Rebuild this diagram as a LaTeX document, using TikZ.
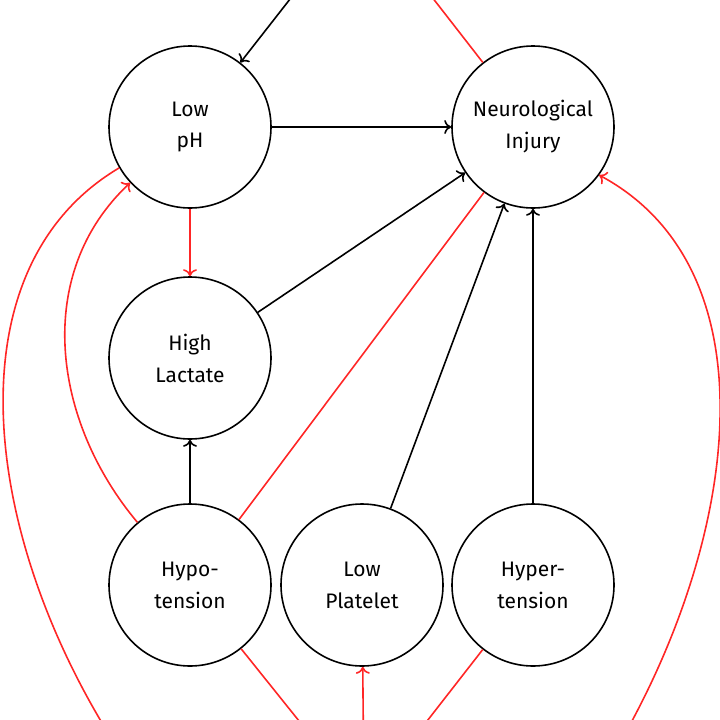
\documentclass[tikz,border=0pt]{standalone}
\usepackage{fontspec}
\setmainfont{Fira Sans}
\usetikzlibrary{arrows.meta}
\begin{document}
\begin{tikzpicture}[x=1pt,y=-1pt,
  >={To[length=7pt,width=14pt]},
  nd/.style={circle,draw,line width=1.6pt,minimum size=162pt,inner sep=0pt,align=center,font=\fontsize{21}{32}\selectfont},
  hid/.style={circle,minimum size=162pt,inner sep=0pt},
  blk/.style={->,line width=1.6pt},
  rd/.style={->,line width=1.6pt,red!85!white},
  rdl/.style={line width=1.6pt,red!85!white}]
\useasboundingbox (0,0) rectangle (720,720);
\clip (0,0) rectangle (720,720);
\node[nd] (ph) at (190,127) {Low\\pH};
\node[nd] (ni) at (533,127) {Neurological\\Injury};
\node[nd] (hl) at (190,358) {High\\Lactate};
\node[nd] (hypo) at (190,585) {Hypo-\\tension};
\node[nd] (lp) at (362,585) {Low\\Platelet};
\node[nd] (hyper) at (533,585) {Hyper-\\tension};
\node[hid] (t) at (362,-93) {};
\node[hid] (b) at (364,802) {};
\coordinate (bl) at (170,820);
\coordinate (br) at (570,820);
\draw[blk] (t) -- (ph);
\draw[rdl] (ni) -- (t);
\draw[blk] (ph) -- (ni);
\draw[rd] (ph) -- (hl);
\draw[blk] (hl) -- (ni);
\draw[rdl] (hypo) -- (ni);
\draw[blk] (lp) -- (ni);
\draw[blk] (hyper) -- (ni);
\draw[blk] (hypo) -- (hl);
\draw[rd] (hypo) to[out=130,in=223] (ph);
\draw[rdl] (ph.210) .. controls (-70,280) and (-10,600) .. (bl);
\draw[rd] (br) .. controls (730,600) and (794,280) .. (ni.-36);
\draw[rd] (b) -- (lp);
\draw[rdl] (hypo) -- (b);
\draw[rdl] (hyper) -- (b);
\end{tikzpicture}
\end{document}
